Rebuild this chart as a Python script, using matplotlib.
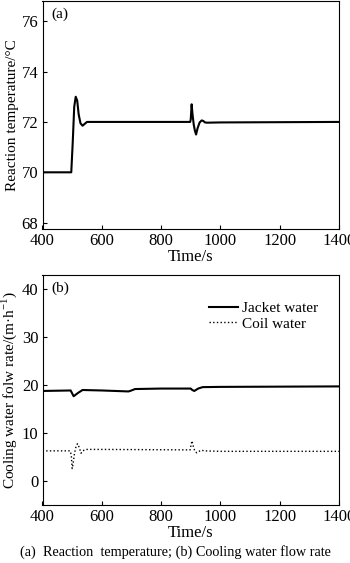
import numpy as np
import matplotlib.pyplot as plt

plt.rcParams['font.family'] = ['Liberation Serif', 'DejaVu Serif']
plt.rcParams['mathtext.fontset'] = 'custom'
plt.rcParams['mathtext.rm'] = 'Liberation Serif'

# (a) reaction temperature
t_temp = [400, 497, 502, 507, 512, 517, 522, 528, 535, 542, 550, 600, 800, 898, 900, 903, 906, 910, 914, 918, 923, 930, 937, 942, 948, 955, 1000, 1400]
temp = [70.0, 70.0, 71.2, 72.6, 73.0, 72.85, 72.3, 71.95, 71.85, 71.92, 72.0, 72.0, 72.0, 72.0, 72.1, 72.7, 72.3, 71.9, 71.65, 71.5, 71.75, 71.98, 72.06, 72.04, 71.98, 71.97, 71.98, 72.0]

# (b) cooling water flow rate
t_jacket = [400, 495, 500, 505, 520, 535, 600, 690, 700, 712, 800, 900, 905, 912, 925, 940, 1000, 1400]
jacket = [18.8, 18.9, 18.3, 17.7, 18.4, 19.0, 18.9, 18.7, 18.9, 19.2, 19.3, 19.3, 19.0, 18.8, 19.3, 19.6, 19.65, 19.75]

t_coil = [400, 493, 497, 500, 503, 508, 513, 518, 524, 530, 536, 545, 600, 898, 901, 904, 908, 914, 920, 928, 936, 945, 1000, 1400]
coil = [6.3, 6.3, 5.5, 2.6, 3.5, 5.8, 7.2, 7.8, 7.0, 5.8, 6.3, 6.6, 6.6, 6.5, 7.5, 8.4, 7.4, 6.2, 5.9, 6.2, 6.45, 6.3, 6.2, 6.2]

fig = plt.figure(figsize=(3.5, 5.63), dpi=100)
ax1 = fig.add_axes([42.5 / 350, 1 - 229 / 563, 296.5 / 350, 228 / 563])
ax2 = fig.add_axes([42.5 / 350, 1 - 505 / 563, 296.5 / 350, 230 / 563])

ax1.plot(t_temp, temp, color='black', lw=1.5)
ax1.set_xlim(400, 1400)
ax1.set_ylim(67.75, 76.8)
ax1.set_yticks([68, 70, 72, 74, 76])
ax1.set_xticks([400, 600, 800, 1000, 1200, 1400])
ax1.set_xlabel('Time/s', fontsize=12, labelpad=0)
ax1.set_ylabel('Reaction temperature/°C', fontsize=11, labelpad=2)
ax1.text(0.03, 0.97, '(a)', transform=ax1.transAxes, ha='left', va='top', fontsize=11)

ax2.plot(t_jacket, jacket, color='black', lw=1.5, label='Jacket water')
ax2.plot(t_coil, coil, color='black', lw=1.0, ls=':', label='Coil water')
ax2.set_xlim(400, 1400)
ax2.set_ylim(-5, 43)
ax2.set_yticks([0, 10, 20, 30, 40])
ax2.set_xticks([400, 600, 800, 1000, 1200, 1400])
ax2.set_xlabel('Time/s', fontsize=12, labelpad=0)
ax2.set_ylabel('Cooling water folw rate/(m·h$^{-1}$)', fontsize=11, labelpad=2)
ax2.text(0.03, 0.97, '(b)', transform=ax2.transAxes, ha='left', va='top', fontsize=11)
ax2.legend(loc='upper right', bbox_to_anchor=(0.966, 0.93), frameon=False, fontsize=11,
           handlelength=1.9, handletextpad=0.25, labelspacing=0.1, borderaxespad=0.3)

for ax in (ax1, ax2):
    ax.tick_params(direction='in', length=3, width=0.8, labelsize=12, pad=3)
    for s in ax.spines.values():
        s.set_linewidth(0.8)

fig.text(0.5, 1 - 552 / 563, '(a)  Reaction  temperature; (b) Cooling water flow rate',
         ha='center', va='center', fontsize=10.3)

fig.savefig('out.png', dpi=100)
